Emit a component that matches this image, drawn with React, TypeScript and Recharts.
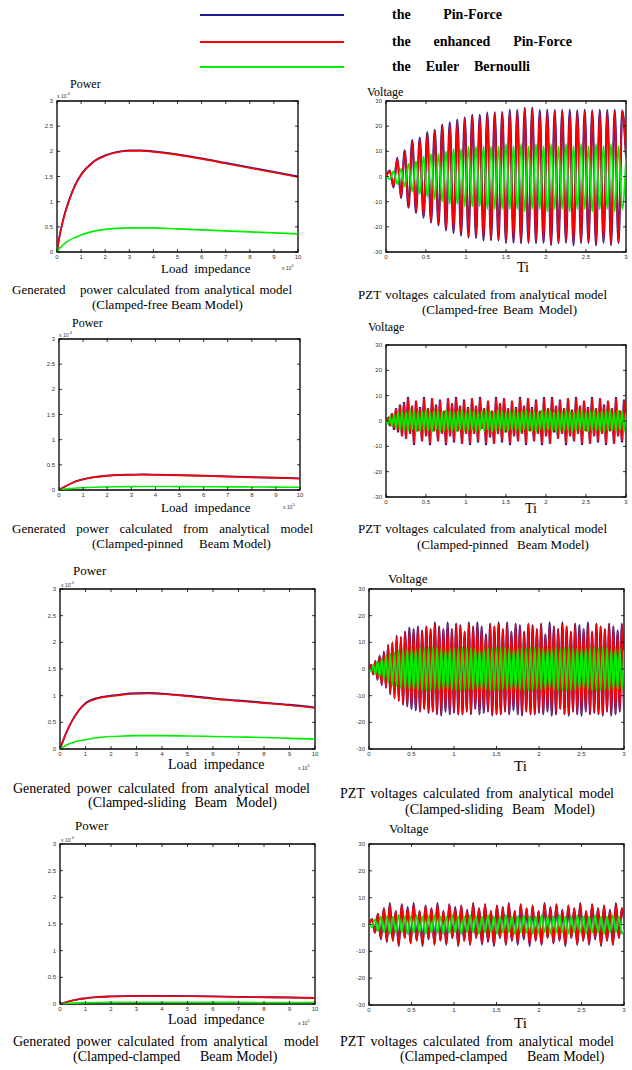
import React from 'react';
import { LineChart, Line, XAxis, YAxis, ReferenceArea } from 'recharts';

// ---------- colours ----------
const PIN = '#1c1c9a';
const ENH = '#ff0000';
const EUL = '#00ee00';

// ---------- power plots (x in 10^5 ohm, y in 10^-4 W) ----------
const loadX = [0, 0.1, 0.25, 0.5, 0.75, 1, 1.5, 2, 2.5, 3, 3.5, 4, 5, 6, 7, 8, 9, 10];
const powerXTicks = [0, 1, 2, 3, 4, 5, 6, 7, 8, 9, 10];
const powerYTicks = [0, 0.5, 1, 1.5, 2, 2.5, 3];

const cfPowerPin = [0, 0.3, 0.63, 1.03, 1.33, 1.54, 1.79, 1.92, 1.99, 2.02, 2.02, 2.0, 1.94, 1.86, 1.77, 1.68, 1.59, 1.5];
const cfPowerEnh = [0, 0.3, 0.62, 1.02, 1.32, 1.53, 1.78, 1.91, 1.98, 2.01, 2.01, 1.99, 1.93, 1.85, 1.76, 1.67, 1.58, 1.49];
const cfPowerEul = [0, 0.07, 0.14, 0.23, 0.29, 0.34, 0.41, 0.45, 0.47, 0.48, 0.48, 0.48, 0.46, 0.44, 0.42, 0.4, 0.38, 0.36];

const cpPowerPin = [0, 0.03, 0.07, 0.13, 0.18, 0.215, 0.26, 0.285, 0.3, 0.305, 0.31, 0.305, 0.295, 0.285, 0.27, 0.255, 0.245, 0.23];
const cpPowerEnh = [0, 0.03, 0.07, 0.13, 0.18, 0.21, 0.255, 0.28, 0.295, 0.3, 0.305, 0.3, 0.29, 0.28, 0.265, 0.25, 0.24, 0.225];
const cpPowerEul = [0, 0.01, 0.02, 0.03, 0.04, 0.045, 0.055, 0.06, 0.065, 0.068, 0.07, 0.07, 0.068, 0.066, 0.063, 0.06, 0.057, 0.054];

const csPowerPin = [0, 0.13, 0.31, 0.55, 0.73, 0.86, 0.96, 1.0, 1.03, 1.045, 1.05, 1.04, 1.0, 0.95, 0.91, 0.87, 0.83, 0.78];
const csPowerEnh = [0, 0.13, 0.31, 0.55, 0.73, 0.85, 0.95, 0.99, 1.02, 1.035, 1.04, 1.03, 0.99, 0.94, 0.9, 0.86, 0.82, 0.77];
const csPowerEul = [0, 0.03, 0.07, 0.12, 0.155, 0.175, 0.215, 0.235, 0.245, 0.25, 0.25, 0.25, 0.245, 0.235, 0.225, 0.215, 0.2, 0.185];

const ccPowerPin = [0, 0.015, 0.035, 0.066, 0.092, 0.107, 0.132, 0.142, 0.148, 0.153, 0.154, 0.152, 0.148, 0.143, 0.134, 0.128, 0.123, 0.113];
const ccPowerEnh = [0, 0.015, 0.035, 0.065, 0.09, 0.105, 0.13, 0.14, 0.145, 0.15, 0.15, 0.148, 0.145, 0.14, 0.13, 0.125, 0.12, 0.11];
const ccPowerEul = [0, 0.004, 0.009, 0.016, 0.021, 0.025, 0.029, 0.031, 0.032, 0.033, 0.033, 0.033, 0.032, 0.031, 0.03, 0.029, 0.028, 0.027];

// ---------- voltage plots (time in s, voltage in V) ----------
const voltXTicks = [0, 0.5, 1, 1.5, 2, 2.5, 3];
const voltYTicks = [-30, -20, -10, 0, 10, 20, 30];

// clamped-free: extrema times
const cfTime = [0, 0.047, 0.094, 0.141, 0.188, 0.234, 0.281, 0.328, 0.375, 0.422, 0.469, 0.516, 0.563, 0.609, 0.656, 0.703, 0.75, 0.797, 0.844, 0.891, 0.938, 0.984, 1.031, 1.078, 1.125, 1.172, 1.219, 1.266, 1.313, 1.359, 1.406, 1.453, 1.5, 1.547, 1.594, 1.641, 1.688, 1.734, 1.781, 1.828, 1.875, 1.922, 1.969, 2.016, 2.063, 2.109, 2.156, 2.203, 2.25, 2.297, 2.344, 2.391, 2.438, 2.484, 2.531, 2.578, 2.625, 2.672, 2.719, 2.766, 2.813, 2.859, 2.906, 2.953, 3.0];
const cfVoltPin = [0, 2.3, -4.3, 7.4, -8.5, 10.4, -12.4, 14.5, -14.5, 15.5, -16.4, 17.6, -18.3, 18.5, -19.4, 20.6, -21.4, 21.5, -22.4, 22.6, -23.5, 23.4, -24.3, 24.5, -24.4, 24.5, -25.4, 25.4, -25.3, 25.5, -25.4, 25.6, -26.4, 26.5, -26.3, 26.4, -26.5, 27.3, -26.4, 27.4, -26.5, 26.4, -26.3, 26.5, -27.3, 26.4, -26.5, 26.4, -26.3, 26.5, -27.4, 26.3, -26.4, 26.5, -26.4, 26.3, -27.4, 26.5, -26.3, 26.4, -27.3, 26.5, -26.4, 26.3, 8.5];
const cfVoltEnh = [0, 2, -4, 7, -8, 10, -12, 14, -14, 15, -16, 17, -18, 18, -19, 20, -21, 21, -22, 22, -23, 23, -24, 24, -24, 24, -25, 25, -25, 25, -25, 25, -26, 26, -26, 26, -26, 27, -26, 27, -26, 26, -26, 26, -27, 26, -26, 26, -26, 26, -27, 26, -26, 26, -26, 26, -27, 26, -26, 26, -27, 26, -26, 26, 8];
const cfVoltEul = [0, -1, 2, -3, 3, -4, 5, -6, 6, -7, 8, -8, 9, -9, 9, -10, 10, -11, 11, -11, 11, -12, 12, -12, 12, -12, 12, -13, 12, -13, 12, -13, 13, -13, 12, -13, 13, -14, 12, -13, 13, -13, 12, -14, 13, -13, 12, -13, 13, -14, 12, -13, 13, -13, 12, -14, 13, -13, 12, -13, 13, -14, 12, -13, 7];

// clamped-pinned & clamped-sliding share a time grid
const gridTime = [0, 0.025, 0.05, 0.075, 0.1, 0.125, 0.15, 0.175, 0.2, 0.225,
  0.25, 0.275, 0.3, 0.325, 0.35, 0.375, 0.4, 0.425, 0.45, 0.475,
  0.5, 0.525, 0.55, 0.575, 0.6, 0.625, 0.65, 0.675, 0.7, 0.725,
  0.75, 0.775, 0.8, 0.825, 0.85, 0.875, 0.9, 0.925, 0.95, 0.975,
  1, 1.025, 1.05, 1.075, 1.1, 1.125, 1.15, 1.175, 1.2, 1.225,
  1.25, 1.275, 1.3, 1.325, 1.35, 1.375, 1.4, 1.425, 1.45, 1.475,
  1.5, 1.525, 1.55, 1.575, 1.6, 1.625, 1.65, 1.675, 1.7, 1.725,
  1.75, 1.775, 1.8, 1.825, 1.85, 1.875, 1.9, 1.925, 1.95, 1.975,
  2, 2.025, 2.05, 2.075, 2.1, 2.125, 2.15, 2.175, 2.2, 2.225,
  2.25, 2.275, 2.3, 2.325, 2.35, 2.375, 2.4, 2.425, 2.45, 2.475,
  2.5, 2.525, 2.55, 2.575, 2.6, 2.625, 2.65, 2.675, 2.7, 2.725,
  2.75, 2.775, 2.8, 2.825, 2.85, 2.875, 2.9, 2.925, 2.95, 2.975,
  3];

const cpVoltPin = [0, 1, -2, 3, -3.5, 5, -4.5, 6.5, -6, 7.5,
  -7, 9.5, -5, 6, -9.5, 8, -4, 5.5, -8, 9.5,
  -6, 5, -9.5, 9, -4, 6.5, -8, 8.5, -5, 4,
  -9.5, 9, -6, 7, -8.5, 9.5, -4, 6, -9, 8.5,
  -5, 5.5, -9.5, 9, -5, 6, -8.5, 9.5, -3, 5,
  -9.5, 8, -6.5, 4, -9, 9.5, -5, 7, -8.5, 9,
  -4.5, 5, -9.5, 8, -6, 5.5, -8, 9.5, -5, 6,
  -9.5, 9, -4, 5.5, -8, 8.5, -5, 4, -9.5, 9.5,
  -6, 5, -9, 9.5, -4.5, 6, -7, 8.5, -5, 5,
  -9.5, 9, -6, 4.5, -8, 9.5, -5, 6, -9.5, 8,
  -4, 5.5, -9, 9.5, -6, 5, -8.5, 9, -5, 6.5,
  -9.5, 8, -4, 5, -9, 9.5, -6, 4, -8.5, 8.5,
  -5];
const cpVoltEnh = [0, 1, -2, 3, -3, 5, -4, 6, -6, 7,
  -7, 9, -5, 6, -9, 8, -4, 5, -8, 9,
  -6, 5, -9, 9, -4, 6, -8, 8, -5, 4,
  -9, 9, -6, 7, -8, 9, -4, 6, -9, 8,
  -5, 5, -9, 9, -5, 6, -8, 9, -3, 5,
  -9, 8, -6, 4, -9, 9, -5, 7, -8, 9,
  -4, 5, -9, 8, -6, 5, -8, 9, -5, 6,
  -9, 9, -4, 5, -8, 8, -5, 4, -9, 9,
  -6, 5, -9, 9, -4, 6, -7, 8, -5, 5,
  -9, 9, -6, 4, -8, 9, -5, 6, -9, 8,
  -4, 5, -9, 9, -6, 5, -8, 9, -5, 6,
  -9, 8, -4, 5, -9, 9, -6, 4, -8, 8,
  -5];
const cpVoltEul = [0, -1, 1.5, -2, 2.5, -3, 3.5, -3.5, 4, -4,
  3.5, -4, 4.5, -3.5, 4, -4.5, 3.5, -4, 4, -3.5,
  4.5, -4, 3.5, -4.5, 4, -3.5, 4, -4.5, 3.5, -4,
  4.5, -3.5, 4, -4, 3.5, -4.5, 4, -3.5, 4.5, -4,
  3.5, -4, 4.5, -3.5, 4, -4.5, 3.5, -4, 4, -4,
  4.5, -3.5, 4, -4.5, 3.5, -4, 4.5, -3.5, 4, -4.5,
  3.5, -4, 4, -3.5, 4.5, -4, 3.5, -4.5, 4, -3.5,
  4.5, -4, 3.5, -4, 4, -4.5, 3.5, -3.5, 4.5, -4,
  4, -3.5, 4.5, -4, 3.5, -4.5, 4, -4, 3.5, -4,
  4.5, -3.5, 4, -4.5, 3.5, -4, 4.5, -3.5, 4, -4,
  3.5, -4.5, 4, -3.5, 4.5, -4, 3.5, -4, 4, -4.5,
  4, -3.5, 4.5, -4, 3.5, -4, 4.5, -3.5, 4, -4,
  3];

const csVoltPin = [0, 1.5, -2, 3, -4, 5, -6, 6.5, -7, 9,
  -9.5, 10, -11, 12.5, -12, 12, -13.5, 14, -14, 15.5,
  -15, 15, -15.5, 16, -16, 14.5, -15, 16, -16.5, 15,
  -16, 17.5, -17, 16, -17.5, 15, -16, 17.5, -17, 15,
  -16.5, 17, -17, 16.5, -17, 14, -16, 17.5, -17, 16,
  -15, 17.5, -17, 16, -16.5, 13, -16, 17, -17.5, 16,
  -17, 17.5, -17, 15, -16, 17.5, -17, 14, -15.5, 17,
  -17, 16.5, -17.5, 14, -16, 17, -17, 16.5, -17, 15,
  -16.5, 17, -17, 13, -16, 17.5, -17.5, 16, -17, 15,
  -15, 17.5, -17, 16, -17.5, 14, -16, 17, -17, 16.5,
  -17.5, 15, -16, 17.5, -17, 14, -16.5, 17, -17, 16,
  -17.5, 15, -16, 17, -17.5, 16, -17, 14.5, -16, 17,
  -15];
const csVoltEnh = [0, 1.5, -2, 3, -4, 5, -6, 6, -7, 9,
  -9, 10, -11, 12, -12, 12, -13, 14, -14, 15,
  -15, 15, -15, 16, -16, 14, -15, 16, -16, 15,
  -16, 17, -17, 16, -17, 15, -16, 17, -17, 15,
  -16, 17, -17, 16, -17, 14, -16, 17, -17, 16,
  -15, 17, -17, 16, -16, 13, -16, 17, -17, 16,
  -17, 17, -17, 15, -16, 17, -17, 14, -15, 17,
  -17, 16, -17, 14, -16, 17, -17, 16, -17, 15,
  -16, 17, -17, 13, -16, 17, -17, 16, -17, 15,
  -15, 17, -17, 16, -17, 14, -16, 17, -17, 16,
  -17, 15, -16, 17, -17, 14, -16, 17, -17, 16,
  -17, 15, -16, 17, -17, 16, -17, 14, -16, 17,
  -15];
const csVoltEul = [0, -1, 1.5, -2, 3, -3, 4, -4, 5, -5,
  5.5, -6, 6, -6.5, 7, -7, 7, -7.5, 7.5, -8,
  8, -8, 7.5, -8, 8, -8, 7.5, -8, 8, -8,
  8, -7.5, 8, -8, 8, -8, 7.5, -8, 8, -8,
  8, -8, 7.5, -8, 8, -8, 8, -7.5, 8, -8,
  8, -8, 7.5, -8, 8, -8, 8, -8, 7.5, -8,
  8, -8, 8, -7.5, 8, -8, 8, -8, 7.5, -8,
  8, -8, 8, -8, 7.5, -8, 8, -8, 8, -7.5,
  8, -8, 8, -8, 8, -7.5, 8, -8, 8, -8,
  7.5, -8, 8, -8, 8, -8, 7.5, -8, 8, -8,
  8, -7.5, 8, -8, 8, -8, 8, -8, 7.5, -8,
  8, -8, 8, -8, 7.5, -8, 8, -8, 8, -8,
  7];

// clamped-clamped
const ccTime = [0, 0.035, 0.07, 0.105, 0.14, 0.175, 0.21, 0.245, 0.28, 0.315,
  0.35, 0.385, 0.42, 0.455, 0.49, 0.525, 0.56, 0.595, 0.63, 0.665,
  0.7, 0.735, 0.77, 0.805, 0.84, 0.875, 0.91, 0.945, 0.98, 1.015,
  1.05, 1.085, 1.12, 1.155, 1.19, 1.225, 1.26, 1.295, 1.33, 1.365,
  1.4, 1.435, 1.47, 1.505, 1.54, 1.575, 1.61, 1.645, 1.68, 1.715,
  1.75, 1.785, 1.82, 1.855, 1.89, 1.925, 1.96, 1.995, 2.03, 2.065,
  2.1, 2.135, 2.17, 2.205, 2.24, 2.275, 2.31, 2.345, 2.38, 2.415,
  2.45, 2.485, 2.52, 2.555, 2.59, 2.625, 2.66, 2.695, 2.73, 2.765,
  2.8, 2.835, 2.87, 2.905, 2.94, 2.975, 3];
const ccVoltPin = [0, 2, -3, 4, -5.5, 6, -6.5, 8, -6, 5,
  -8, 7.5, -5, 6.5, -7, 8, -6, 5, -8, 7,
  -5.5, 6, -7.5, 8, -6, 5, -7.5, 7.5, -5, 6.5,
  -8, 7, -6, 5.5, -7.5, 8, -5, 6, -7.5, 7.5,
  -6.5, 5, -8, 7, -5, 6.5, -7.5, 8, -6, 5,
  -7.5, 7.5, -5.5, 6, -8, 7, -6, 5, -7.5, 8,
  -5, 6.5, -7, 7.5, -6, 5.5, -8, 7, -5, 6,
  -7.5, 8, -6, 5, -7.5, 7.5, -5.5, 6, -8, 7,
  -6, 5.5, -7.5, 8, -5, 6, 2];
const ccVoltEnh = [0, 2, -3, 4, -5, 6, -6, 7.5, -6, 5,
  -7.5, 7.5, -5, 6, -7, 7.5, -6, 5, -7.5, 7,
  -5, 6, -7.5, 7.5, -6, 5, -7, 7.5, -5, 6,
  -7.5, 7, -6, 5, -7.5, 7.5, -5, 6, -7, 7.5,
  -6, 5, -7.5, 7, -5, 6, -7.5, 7.5, -6, 5,
  -7, 7.5, -5, 6, -7.5, 7, -6, 5, -7.5, 7.5,
  -5, 6, -7, 7.5, -6, 5, -7.5, 7, -5, 6,
  -7.5, 7.5, -6, 5, -7, 7.5, -5, 6, -7.5, 7,
  -6, 5, -7.5, 7.5, -5, 6, 2];
const ccVoltEul = [0, -1, 2, -2.5, 3, -3, 3, -3.5, 3, -3,
  3.5, -3, 3, -3.5, 3, -3, 3.5, -3, 3, -3.5,
  3, -3, 3.5, -3, 3, -3.5, 3, -3, 3.5, -3,
  3, -3.5, 3, -3, 3.5, -3, 3, -3.5, 3, -3,
  3.5, -3, 3, -3.5, 3, -3, 3.5, -3, 3, -3.5,
  3, -3, 3.5, -3, 3, -3.5, 3, -3, 3.5, -3,
  3, -3.5, 3, -3, 3.5, -3, 3, -3.5, 3, -3,
  3.5, -3, 3, -3.5, 3, -3, 3.5, -3, 3, -3.5,
  3, -3, 3.5, -3, 3, -3.5, -2];

// ---------- helpers ----------
type Pt = { x: number; y: number };
const pts = (xs: number[], ys: number[]): Pt[] => xs.map((x, i) => ({ x, y: ys[i] }));

type Series = { data: Pt[]; color: string; width: number };

const SERIF = '"Liberation Serif", "Times New Roman", serif';
const SANS = '"Liberation Sans", Arial, sans-serif';

function Panel(props: {
  fx: number; fy: number; fw: number; fh: number;
  xDomain: [number, number]; yDomain: [number, number];
  xTicks: number[]; yTicks: number[]; series: Series[]; curve: 'monotone' | 'linear';
}) {
  const { fx, fy, fw, fh, xDomain, yDomain, xTicks, yTicks, series, curve } = props;
  const LM = 30, TM = 6, RM = 6, BM = 14;
  const XT = (p: any) => {
    const { x, y, payload } = p;
    return (
      <g>
        <line x1={x} x2={x} y1={y} y2={y - 3} stroke="#000" strokeWidth={0.8} />
        <line x1={x} x2={x} y1={y - fh} y2={y - fh + 3} stroke="#000" strokeWidth={0.8} />
        <text x={x} y={y + 7} textAnchor="middle" fontSize={6} fill="#333" fontFamily={SANS}>{payload.value}</text>
      </g>
    );
  };
  const YT = (p: any) => {
    const { x, y, payload } = p;
    return (
      <g>
        <line x1={x} x2={x + 3} y1={y} y2={y} stroke="#000" strokeWidth={0.8} />
        <line x1={x + fw} x2={x + fw - 3} y1={y} y2={y} stroke="#000" strokeWidth={0.8} />
        <text x={x - 4} y={y + 2} textAnchor="end" fontSize={6} fill="#333" fontFamily={SANS}>{payload.value}</text>
      </g>
    );
  };
  return (
    <div style={{ position: 'absolute', left: fx - LM, top: fy - TM }}>
      <LineChart width={fw + LM + RM} height={fh + TM + BM} margin={{ top: TM, right: RM, left: 0, bottom: 0 }}>
        <XAxis type="number" dataKey="x" domain={xDomain} ticks={xTicks} interval={0} tick={XT}
          tickLine={false} axisLine={false} tickSize={0} tickMargin={0} height={BM} allowDataOverflow />
        <YAxis type="number" domain={yDomain} ticks={yTicks} interval={0} tick={YT}
          tickLine={false} axisLine={false} tickSize={0} tickMargin={0} width={LM} allowDataOverflow />
        {series.map((s, i) => (
          <Line key={i} data={s.data} dataKey="y" stroke={s.color} strokeWidth={s.width} dot={false}
            activeDot={false} type={curve} isAnimationActive={false} />
        ))}
        <ReferenceArea x1={xDomain[0]} x2={xDomain[1]} y1={yDomain[0]} y2={yDomain[1]}
          fill="none" fillOpacity={0} stroke="#000" strokeWidth={1.3} />
      </LineChart>
    </div>
  );
}

function Txt(props: { l: number; t: number; fs: number; w?: number; bold?: boolean; children: React.ReactNode }) {
  const { l, t, fs, w, bold, children } = props;
  const justify = w !== undefined;
  return (
    <div style={{
      position: 'absolute', left: l, top: t - fs / 2, width: w, fontSize: fs, lineHeight: 1,
      fontFamily: SERIF, fontWeight: bold ? 'bold' : 'normal', color: '#000',
      whiteSpace: justify ? 'nowrap' : 'pre',
      textAlign: justify ? 'justify' : 'left',
      textAlignLast: justify ? 'justify' : undefined,
    } as React.CSSProperties}>{children}</div>
  );
}

function Exp(props: { l: number; t: number; e: string }) {
  return (
    <div style={{ position: 'absolute', left: props.l, top: props.t, fontSize: 5, fontFamily: SANS, color: '#333', lineHeight: 1, whiteSpace: 'nowrap' }}>
      x 10<sup style={{ fontSize: 4 }}>{props.e}</sup>
    </div>
  );
}

const powerSeries = (pin: number[], enh: number[], eul: number[]): Series[] => [
  { data: pts(loadX, pin), color: PIN, width: 1.8 },
  { data: pts(loadX, enh), color: ENH, width: 1.6 },
  { data: pts(loadX, eul), color: EUL, width: 1.6 },
];
const voltSeries = (t: number[], pin: number[], enh: number[], eul: number[]): Series[] => [
  { data: pts(t, pin), color: PIN, width: 2.2 },
  { data: pts(t, enh), color: ENH, width: 1.8 },
  { data: pts(t, eul), color: EUL, width: 1.8 },
];

const legendItems = [
  { color: PIN, label: 'the Pin-Force', y: 15, w: 110 },
  { color: ENH, label: 'the enhanced Pin-Force', y: 42, w: 180 },
  { color: EUL, label: 'the Euler Bernoulli', y: 67, w: 138 },
];

export default function App() {
  const pDom: [number, number] = [0, 10];
  const pY: [number, number] = [0, 3];
  const vDom: [number, number] = [0, 3];
  const vY: [number, number] = [-30, 30];
  return (
    <div style={{ position: 'absolute', left: 0, top: 0, width: 632, height: 1070, background: '#fff', overflow: 'hidden' }}>
      {legendItems.map((it, i) => (
        <React.Fragment key={i}>
          <div style={{ position: 'absolute', left: 200, top: it.y - 1, width: 144, height: 2, background: it.color }} />
          <Txt l={392} t={it.y} fs={14} bold w={it.w}>{it.label}</Txt>
        </React.Fragment>
      ))}

      {/* Row 1 */}
      <Panel fx={57} fy={101} fw={241} fh={151} xDomain={pDom} yDomain={pY} xTicks={powerXTicks} yTicks={powerYTicks}
        series={powerSeries(cfPowerPin, cfPowerEnh, cfPowerEul)} curve="monotone" />
      <Txt l={70} t={84} fs={12}>Power</Txt>
      <Exp l={57} t={92} e="-4" />
      <Exp l={282} t={264} e="5" />
      <Txt l={161} t={268} fs={13}>Load  impedance</Txt>
      <Txt l={12} t={289} fs={13}>Generated</Txt>
      <Txt l={80} t={289} fs={13} w={212}>power calculated from analytical model</Txt>
      <Txt l={92} t={304} fs={13} w={150}>(Clamped-free Beam Model)</Txt>

      <Panel fx={386} fy={101} fw={240} fh={151} xDomain={vDom} yDomain={vY} xTicks={voltXTicks} yTicks={voltYTicks}
        series={voltSeries(cfTime, cfVoltPin, cfVoltEnh, cfVoltEul)} curve="monotone" />
      <Txt l={367} t={92} fs={12}>Voltage</Txt>
      <Txt l={517} t={268} fs={14}>Ti</Txt>
      <Txt l={358} t={294} fs={13} w={249}>PZT voltages calculated from analytical model</Txt>
      <Txt l={422} t={309} fs={13} w={155}>(Clamped-free Beam Model)</Txt>

      {/* Row 2 */}
      <Panel fx={59} fy={339} fw={241} fh={151} xDomain={pDom} yDomain={pY} xTicks={powerXTicks} yTicks={powerYTicks}
        series={powerSeries(cpPowerPin, cpPowerEnh, cpPowerEul)} curve="monotone" />
      <Txt l={72} t={323} fs={12}>Power</Txt>
      <Exp l={59} t={331} e="-4" />
      <Exp l={283} t={503} e="5" />
      <Txt l={161} t={507} fs={13}>Load  impedance</Txt>
      <Txt l={12} t={528} fs={13} w={301}>Generated power calculated from analytical model</Txt>
      <Txt l={92} t={543} fs={13}>(Clamped-pinned</Txt>
      <Txt l={199} t={543} fs={13}>Beam Model)</Txt>

      <Panel fx={386} fy={345} fw={240} fh={152} xDomain={vDom} yDomain={vY} xTicks={voltXTicks} yTicks={voltYTicks}
        series={voltSeries(gridTime, cpVoltPin, cpVoltEnh, cpVoltEul)} curve="linear" />
      <Txt l={368} t={327} fs={12}>Voltage</Txt>
      <Txt l={525} t={509} fs={14}>Ti</Txt>
      <Txt l={358} t={528} fs={13} w={249}>PZT voltages calculated from analytical model</Txt>
      <Txt l={417} t={544} fs={13}>(Clamped-pinned</Txt>
      <Txt l={517} t={544} fs={13}>Beam Model)</Txt>

      {/* Row 3 */}
      <Panel fx={60} fy={589} fw={255} fh={160} xDomain={pDom} yDomain={pY} xTicks={powerXTicks} yTicks={powerYTicks}
        series={powerSeries(csPowerPin, csPowerEnh, csPowerEul)} curve="monotone" />
      <Txt l={73} t={570} fs={13}>Power</Txt>
      <Exp l={61} t={581} e="-4" />
      <Exp l={298} t={764} e="5" />
      <Txt l={168} t={765} fs={14}>Load  impedance</Txt>
      <Txt l={13} t={789} fs={14} w={297}>Generated power calculated from analytical model</Txt>
      <Txt l={88} t={803} fs={14} w={189}>(Clamped-sliding Beam Model)</Txt>

      <Panel fx={369} fy={589} fw={255} fh={160} xDomain={vDom} yDomain={vY} xTicks={voltXTicks} yTicks={voltYTicks}
        series={voltSeries(gridTime, csVoltPin, csVoltEnh, csVoltEul)} curve="monotone" />
      <Txt l={388} t={578} fs={13}>Voltage</Txt>
      <Txt l={514} t={766} fs={15}>Ti</Txt>
      <Txt l={340} t={794} fs={14} w={274}>PZT voltages calculated from analytical model</Txt>
      <Txt l={405} t={810} fs={14} w={190}>(Clamped-sliding Beam Model)</Txt>

      {/* Row 4 */}
      <Panel fx={60} fy={844} fw={255} fh={160} xDomain={pDom} yDomain={pY} xTicks={powerXTicks} yTicks={powerYTicks}
        series={powerSeries(ccPowerPin, ccPowerEnh, ccPowerEul)} curve="monotone" />
      <Txt l={75} t={825} fs={13}>Power</Txt>
      <Exp l={61} t={836} e="-4" />
      <Exp l={298} t={1019} e="5" />
      <Txt l={168} t={1020} fs={14}>Load  impedance</Txt>
      <Txt l={13} t={1042} fs={14} w={255}>Generated power calculated from analytical</Txt>
      <Txt l={284} t={1042} fs={14}>model</Txt>
      <Txt l={73} t={1057} fs={14}>(Clamped-clamped</Txt>
      <Txt l={200} t={1057} fs={14}>Beam Model)</Txt>

      <Panel fx={369} fy={844} fw={255} fh={161} xDomain={vDom} yDomain={vY} xTicks={voltXTicks} yTicks={voltYTicks}
        series={voltSeries(ccTime, ccVoltPin, ccVoltEnh, ccVoltEul)} curve="monotone" />
      <Txt l={389} t={828} fs={13}>Voltage</Txt>
      <Txt l={514} t={1023} fs={15}>Ti</Txt>
      <Txt l={340} t={1042} fs={14} w={274}>PZT voltages calculated from analytical model</Txt>
      <Txt l={400} t={1057} fs={14}>(Clamped-clamped</Txt>
      <Txt l={527} t={1057} fs={14}>Beam Model)</Txt>
    </div>
  );
}
